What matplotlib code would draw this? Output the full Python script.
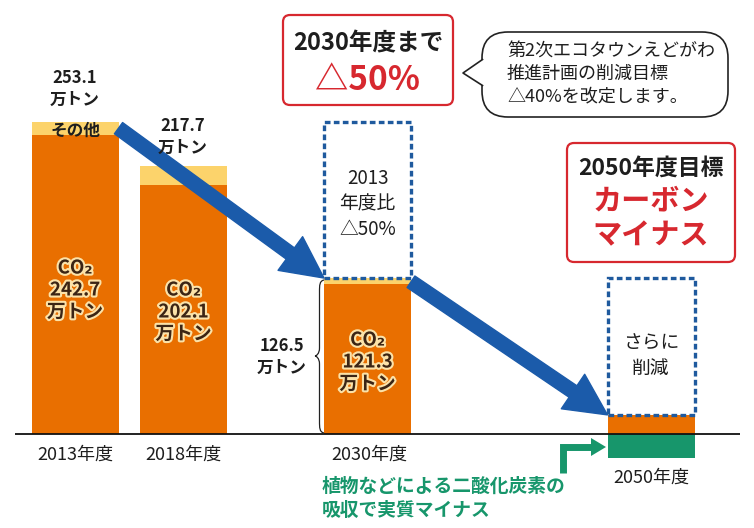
import numpy as np
import matplotlib
matplotlib.use('Agg')
import matplotlib.pyplot as plt
from matplotlib.patches import Rectangle, FancyBboxPatch, Polygon, PathPatch
from matplotlib.path import Path
import matplotlib.patheffects as pe

plt.rcParams['font.family'] = ['Noto Sans CJK JP', 'DejaVu Sans']

#---------------------Data---------------------
years = ['2013年度', '2018年度', '2030年度', '2050年度']
co2 = [242.7, 202.1, 121.3, 15.5]       # 2050 value is schematic
other = [10.4, 15.6, 5.2, 0.0]
totals = [253.1, 217.7, 126.5]
absorb = [0.0, 0.0, 0.0, -19.5]         # plant absorption (schematic)

#---------------------Style---------------------
orange = '#e96f00'
yellow = '#fcd36b'
green = '#17966b'
blue = '#1b5baa'
dot_blue = '#1f5a9e'
red = '#d7282f'
dark = '#1e1e1e'

x_pos = [75, 183.5, 367.5, 651]
bw = 87

fig = plt.figure(figsize=(7.54, 5.28), dpi=100)
ax = fig.add_axes([0, 0, 1, 1])
s = 312 / 253.1   # px per 万トン
ax.set_xlim(0, 754)
ax.set_ylim(-(528 - 434) / s, 434 / s)
ax.axis('off')

# bars
ax.bar(x_pos, co2, bw, color=orange, zorder=2)
ax.bar(x_pos, other, bw, bottom=co2, color=yellow, zorder=2)
ax.bar(x_pos, absorb, bw, color=green, zorder=2)
ax.hlines(0, 15, 740, color='#111111', lw=1.3, zorder=6)

# dotted target boxes
dash = (0, (1.7, 1.0))
ax.add_patch(Rectangle((x_pos[2] - bw / 2, totals[2]), bw, totals[0] - totals[2],
                       fill=False, ec=dot_blue, lw=2.4, ls=dash, zorder=4))
ax.add_patch(Rectangle((x_pos[3] - bw / 2, co2[3]), bw, totals[2] - co2[3],
                       fill=False, ec=dot_blue, lw=2.4, ls=dash, zorder=4))

# blue trend arrows
astyle = 'simple,head_length=3.0,head_width=3.0,tail_width=1.0'
ax.annotate('', xy=(x_pos[2] - bw / 2, totals[2]),
            xytext=(x_pos[0] + bw / 2, totals[0] - 5),
            arrowprops=dict(arrowstyle=astyle, mutation_scale=10, color=blue,
                            shrinkA=0, shrinkB=0), zorder=3)
ax.annotate('', xy=(x_pos[3] - bw / 2, co2[3]),
            xytext=(x_pos[2] + bw / 2, totals[2] - 3),
            arrowprops=dict(arrowstyle=astyle, mutation_scale=10, color=blue,
                            shrinkA=0, shrinkB=0), zorder=3)

#---------------------Decoration layer (pixel coords)---------------------
deco = fig.add_axes([0, 0, 1, 1], facecolor='none')
deco.set_xlim(0, 754)
deco.set_ylim(528, 0)
deco.axis('off')

# totals above bars
deco.text(75, 89, f'{totals[0]}\n万トン', ha='center', va='center', fontsize=12,
          fontweight='bold', color=dark, linespacing=1.25)
deco.text(75, 131, 'その他', ha='center', va='center', fontsize=12,
          fontweight='bold', color=dark)
deco.text(183, 137, f'{totals[1]}\n万トン', ha='center', va='center', fontsize=12,
          fontweight='bold', color=dark, linespacing=1.25)

# CO2 labels inside bars
outline = [pe.withStroke(linewidth=3, foreground='#fbe2a9')]
for xc, yc, v in zip(x_pos[:3], [290, 312, 362], co2[:3]):
    deco.text(xc, yc, f'CO₂\n{v}\n万トン', ha='center', va='center', fontsize=13.5,
              fontweight='bold', color='#3b2414', linespacing=1.2,
              path_effects=outline)

deco.text(367.5, 204, '2013\n年度比\n△50%', ha='center', va='center',
          fontsize=13.5, color=dark, linespacing=1.3)
deco.text(651, 356, 'さらに\n削減', ha='center', va='center', fontsize=13.5,
          color=dark, linespacing=1.3)

# 126.5 label with brace
deco.text(282, 357, f'{totals[2]}\n万トン', ha='center', va='center', fontsize=12,
          fontweight='bold', color=dark, linespacing=1.25)
x0, xm, xt = 324, 319.5, 315
verts = [(x0, 280), (xm, 281), (xm, 285), (xm, 292), (xm, 348),
         (xm, 354), (xt + 1, 356), (xt, 356),
         (xt + 1, 356), (xm, 358), (xm, 364), (xm, 421),
         (xm, 428), (xm, 432), (x0, 433)]
codes = [Path.MOVETO, Path.CURVE4, Path.CURVE4, Path.CURVE4, Path.LINETO,
         Path.CURVE4, Path.CURVE4, Path.CURVE4,
         Path.CURVE4, Path.CURVE4, Path.CURVE4, Path.LINETO,
         Path.CURVE4, Path.CURVE4, Path.CURVE4]
deco.add_patch(PathPatch(Path(verts, codes), fill=False, ec='#222222', lw=0.9))

# year labels
for xc, yc, lab in zip([75, 183, 369, 651], [455, 455, 455, 478], years):
    deco.text(xc, yc, lab, ha='center', va='center', fontsize=13, color=dark)

# red box 2030
deco.add_patch(FancyBboxPatch((283, 15), 170, 90, boxstyle='round,pad=0,rounding_size=7',
                              ec=red, fc='white', lw=1.6))
deco.text(368, 43, '2030年度まで', ha='center', va='center', fontsize=17,
          fontweight='bold', color=dark)
deco.text(368, 81, '△50%', ha='center', va='center', fontsize=24,
          fontweight='bold', color=red)

# speech bubble
deco.add_patch(FancyBboxPatch((482, 32), 246, 85, boxstyle='round,pad=0,rounding_size=26',
                              ec='#222222', fc='white', lw=1.2))
deco.add_patch(Polygon([(484, 59), (463, 73), (484, 86)], closed=True, fc='white',
                       ec='none', zorder=3))
deco.plot([482.5, 463, 482.5], [59.5, 73, 85.5], color='#222222', lw=1.2, zorder=4)
deco.text(507, 74, '第2次エコタウンえどがわ\n推進計画の削減目標\n△40%を改定します。',
          ha='left', va='center', fontsize=13, color=dark, linespacing=1.3)

# red box 2050
deco.add_patch(FancyBboxPatch((567, 143), 168, 119, boxstyle='round,pad=0,rounding_size=7',
                              ec=red, fc='white', lw=1.6))
deco.text(651, 168, '2050年度目標', ha='center', va='center', fontsize=16.5,
          fontweight='bold', color=dark)
deco.text(651, 218, 'カーボン\nマイナス', ha='center', va='center', fontsize=21,
          fontweight='bold', color=red, linespacing=1.2)

# green note and arrow
deco.text(322, 498, '植物などによる二酸化炭素の\n吸収で実質マイナス', ha='left',
          va='center', fontsize=13.5, fontweight='bold', color=green, linespacing=1.35)
deco.plot([563, 563, 593], [473, 447, 447], color=green, lw=5,
          solid_joinstyle='miter', solid_capstyle='butt')
deco.add_patch(Polygon([(591, 438), (606, 447), (591, 456)], closed=True,
                       fc=green, ec='none'))

fig.savefig('out.png', dpi=100)
